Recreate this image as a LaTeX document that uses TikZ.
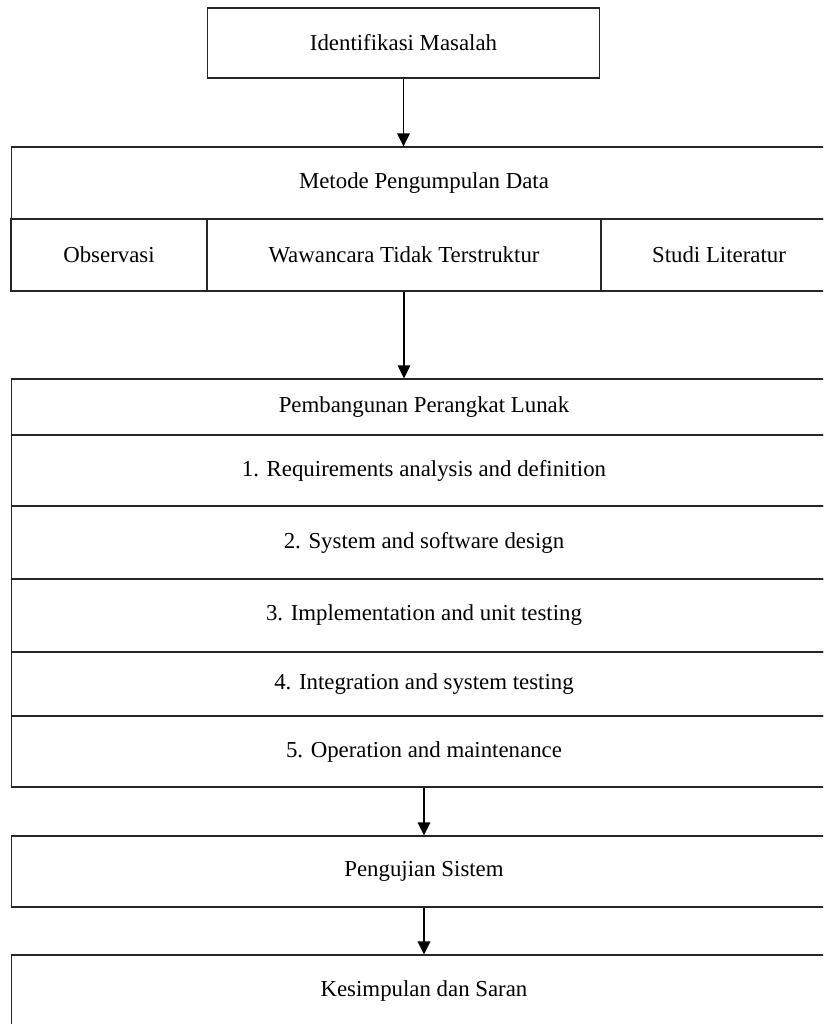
\documentclass[tikz,border=0pt]{standalone}
\usepackage{fontspec}
\setmainfont{Liberation Serif}
\usetikzlibrary{arrows.meta}
\begin{document}
\begin{tikzpicture}[x=0.02cm, y=-0.02cm,
  kotak/.style={draw=black!85, line width=0.6pt, inner sep=0pt, font=\fontsize{13}{15}\selectfont},
  panah/.style={draw=black, line width=0.7pt, -{Triangle[length=0.26cm,width=0.25cm]}}]
\useasboundingbox (0,0) rectangle (823,1024);
\clip (0,0) rectangle (823,1024);
\node[kotak, minimum width=7.86cm, minimum height=1.40cm] (ident) at (403.5,43) {Identifikasi Masalah};
\node[kotak, minimum width=16.52cm, minimum height=1.44cm] (metode) at (424,183) {Metode Pengumpulan Data};
\node[kotak, minimum width=3.92cm, minimum height=1.44cm] (obs) at (109,255) {Observasi};
\node[kotak, minimum width=7.88cm, minimum height=1.44cm] (waw) at (404,255) {Wawancara Tidak Terstruktur};
\node[kotak, minimum width=4.72cm, minimum height=1.44cm] (studi) at (719,255) {Studi Literatur};
\node[kotak, minimum width=16.52cm, minimum height=1.12cm] (pemb) at (424,407) {Pembangunan Perangkat Lunak};
\node[kotak, minimum width=16.52cm, minimum height=1.42cm] (req) at (424,470.5) {1. Requirements analysis and definition};
\node[kotak, minimum width=16.52cm, minimum height=1.46cm] (sys) at (424,542.5) {2. System and software design};
\node[kotak, minimum width=16.52cm, minimum height=1.46cm] (impl) at (424,615.5) {3. Implementation and unit testing};
\node[kotak, minimum width=16.52cm, minimum height=1.28cm] (integ) at (424,684) {4. Integration and system testing};
\node[kotak, minimum width=16.52cm, minimum height=1.42cm] (oper) at (424,751.5) {5. Operation and maintenance};
\node[kotak, minimum width=16.52cm, minimum height=1.42cm] (uji) at (424,871.5) {Pengujian Sistem};
\node[kotak, minimum width=16.52cm, minimum height=1.44cm] (simpul) at (424,991) {Kesimpulan dan Saran};
\draw[line width=1.1pt, black!85] (sys.south west) -- (sys.south east);
\draw[line width=1.1pt, black!85] (impl.south west) -- (impl.south east);
\draw[panah] (ident.south) -- (ident.south |- metode.north);
\draw[panah] (waw.south) -- (waw.south |- pemb.north);
\draw[panah] (oper.south) -- (uji.north);
\draw[panah] (uji.south) -- (simpul.north);
\end{tikzpicture}
\end{document}
